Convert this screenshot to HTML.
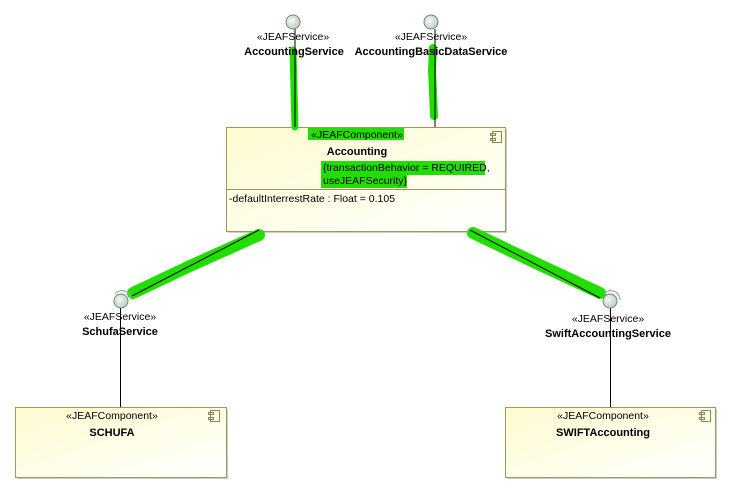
<!DOCTYPE html>
<html><head><meta charset="utf-8"><style>
body{margin:0;background:#fff;}
svg{display:block;font-family:"Liberation Sans",Arial,sans-serif;}
</style></head><body>
<svg width="730" height="492" viewBox="0 0 730 492" xmlns="http://www.w3.org/2000/svg">
<defs>
<linearGradient id="g" x1="0" y1="0" x2="1" y2="1">
<stop offset="0" stop-color="#fdfbcf"/><stop offset="1" stop-color="#ffffff"/>
</linearGradient>
<radialGradient id="c" cx="0.4" cy="0.4" r="0.7">
<stop offset="0" stop-color="#f4f8f4"/><stop offset="1" stop-color="#b8c8bc"/>
</radialGradient>
</defs>
<!-- boxes -->
<g stroke="#9a9a60" fill="url(#g)">
<rect x="228" y="129" width="279" height="104" fill="#ccc" stroke="none"/>
<rect x="226.5" y="127.5" width="279" height="104"/>
<rect x="17" y="409" width="211" height="70" fill="#ccc" stroke="none"/>
<rect x="15.5" y="407.5" width="211" height="70"/>
<rect x="507" y="409" width="210" height="70" fill="#ccc" stroke="none"/>
<rect x="505.5" y="407.5" width="210" height="70"/>
</g>
<line x1="227" y1="189.5" x2="505" y2="189.5" stroke="#9a9a60"/>
<!-- green highlights -->
<g stroke="#22dd00" stroke-linecap="round" fill="none">
<path d="M293 50 L295 127" stroke-width="7"/>
<path d="M433 48 L432 70 L434 116" stroke-width="8"/>
<path d="M133 293 L190 266 L259 235" stroke-width="12"/>
<path d="M473 233 L540 265 L600 293" stroke-width="12"/>
</g>
<g fill="#22dd00">
<rect x="308" y="128" width="96" height="12"/>
<rect x="321" y="161" width="164" height="14"/>
<rect x="321" y="175" width="86" height="13"/>
</g>
<!-- lines -->
<g stroke="#000" stroke-width="1">
<line x1="295" y1="29" x2="295" y2="127"/>
<line x1="435" y1="29" x2="435" y2="127"/>
<line x1="259" y1="230" x2="132" y2="296"/>
<line x1="470" y1="230" x2="600" y2="298"/>
<line x1="120.5" y1="308" x2="120.5" y2="407"/>
<line x1="610.5" y1="308" x2="610.5" y2="407"/>
</g>
<!-- component icons -->
<g stroke="#8a8a50" fill="none">
<g transform="translate(490,131)"><rect x="2.5" y="0.5" width="9" height="11"/><rect x="0.5" y="2.5" width="5" height="2"/><rect x="0.5" y="7.5" width="5" height="2"/></g>
<g transform="translate(208,410)"><rect x="2.5" y="0.5" width="9" height="11"/><rect x="0.5" y="2.5" width="5" height="2"/><rect x="0.5" y="7.5" width="5" height="2"/></g>
<g transform="translate(699,410)"><rect x="2.5" y="0.5" width="9" height="11"/><rect x="0.5" y="2.5" width="5" height="2"/><rect x="0.5" y="7.5" width="5" height="2"/></g>
</g>
<!-- interface circles -->
<g stroke="#6b8a70" fill="url(#c)">
<circle cx="293" cy="22" r="7"/>
<circle cx="431" cy="22" r="7"/>
<circle cx="121" cy="301" r="7"/>
<circle cx="610" cy="301" r="7"/>
</g>
<g stroke="#9ab0a0" fill="none" stroke-width="1.2">
<path d="M115 294 A9 9 0 0 1 131 300"/>
<path d="M604 294 A9 9 0 0 1 620 300"/>
</g>
<!-- text -->
<g font-size="10.5" fill="#000" text-anchor="middle">
<text x="293" y="40">«JEAFService»</text>
<text x="431" y="40">«JEAFService»</text>
<text x="120" y="320">«JEAFService»</text>
<text x="608" y="322">«JEAFService»</text>
<text x="357" y="138">«JEAFComponent»</text>
<text x="112" y="419">«JEAFComponent»</text>
<text x="603" y="419">«JEAFComponent»</text>
<g font-weight="bold" font-size="11">
<text x="294" y="55">AccountingService</text>
<text x="431" y="55">AccountingBasicDataService</text>
<text x="120" y="335">SchufaService</text>
<text x="608" y="337">SwiftAccountingService</text>
<text x="357" y="155">Accounting</text>
<text x="112" y="436">SCHUFA</text>
<text x="603" y="436">SWIFTAccounting</text>
</g>
</g>
<g font-size="10.5" fill="#000">
<text x="323" y="171">{transactionBehavior = REQUIRED,</text>
<text x="323" y="184">useJEAFSecurity}</text>
<text x="229" y="202">-defaultInterrestRate : Float = 0.105</text>
</g>
</svg>
</body></html>
